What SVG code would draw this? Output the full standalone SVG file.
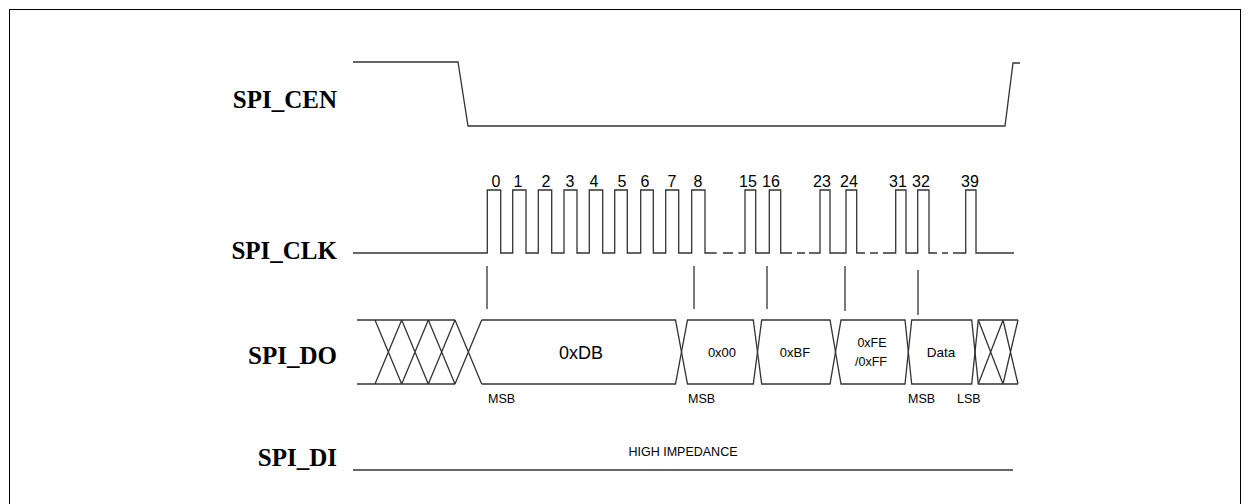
<svg xmlns="http://www.w3.org/2000/svg" width="1251" height="504" viewBox="0 0 1251 504">
<style>
.sig{fill:none;stroke:#333;stroke-width:1.3;stroke-linejoin:miter}
.lbl{font-family:"Liberation Serif","Times New Roman",serif;font-weight:bold;font-size:25px;fill:#000}
.num{font-family:"Liberation Sans",Arial,sans-serif;font-size:16px;fill:#000;text-anchor:middle}
.val{font-family:"Liberation Sans",Arial,sans-serif;fill:#000;text-anchor:middle}
.sm{font-family:"Liberation Sans",Arial,sans-serif;font-size:12.5px;fill:#000}
</style>
<rect x="9.5" y="9.5" width="1231" height="520" fill="#fff" stroke="#000" stroke-width="1"/>
<g id="labels">
<text class="lbl" x="337" y="108" text-anchor="end">SPI_CEN</text>
<text class="lbl" x="337" y="259" text-anchor="end">SPI_CLK</text>
<text class="lbl" x="337" y="364" text-anchor="end">SPI_DO</text>
<text class="lbl" x="337" y="466" text-anchor="end">SPI_DI</text>
</g>
<g id="spi_cen">
<polyline class="sig" points="353,62 458,62 468,126 1005,126 1013,63 1020,63"/>
</g>
<g id="spi_clk">
<path class="sig" d="M353,253 H487.3 V190 H500.7 V253 H512.7 V190 H526 V253 H538.3 V190 H551.7 V253 H564 V190 H577 V253 H589.3 V190 H602.7 V253 H614.7 V190 H627.3 V253 H640.7 V190 H653.3 V253 H665.7 V190 H678.7 V253 H691.7 V190 H705 V253 H716.7 M723,253 H733 M738.3,253 H745 V190 H755.7 V253 H769.3 V190 H780.7 V253 H792 M797,253 H805 M809,253 H820 V190 H830 V253 H846 V190 H856.7 V253 H865 M870,253 H878 M883,253 H895.7 V190 H906 V253 H917.7 V190 H929 V253 H937 M942,253 H948 M953,253 H965.7 V190 H976 V253 H1014"/>
<text class="num" x="496" y="187">0</text>
<text class="num" x="518" y="187">1</text>
<text class="num" x="546" y="187">2</text>
<text class="num" x="570" y="187">3</text>
<text class="num" x="594" y="187">4</text>
<text class="num" x="622" y="187">5</text>
<text class="num" x="645" y="187">6</text>
<text class="num" x="672" y="187">7</text>
<text class="num" x="698" y="187">8</text>
<text class="num" x="748" y="187">15</text>
<text class="num" x="771" y="187">16</text>
<text class="num" x="822" y="187">23</text>
<text class="num" x="849" y="187">24</text>
<text class="num" x="898" y="187">31</text>
<text class="num" x="921" y="187">32</text>
<text class="num" x="970" y="187">39</text>
</g>
<g id="connectors">
<line class="sig" x1="487" y1="266" x2="487" y2="309"/>
<line class="sig" x1="694" y1="266" x2="694" y2="309"/>
<line class="sig" x1="767" y1="266" x2="767" y2="309"/>
<line class="sig" x1="845" y1="266" x2="845" y2="311"/>
<line class="sig" x1="918" y1="270" x2="918" y2="315"/>
</g>
<g id="spi_do">
<path class="sig" d="M357,320 H455 M357,384 H455 M375,320 L401.7,384 M375,384 L401.7,320 M401.7,320 L428.3,384 M401.7,384 L428.3,320 M428.3,320 L455,384 M428.3,384 L455,320 M455,320 L481.7,384 M455,384 L481.7,320"/>
<path class="sig" d="M481.7,320 H675.5 L687.5,384 H753.3 L761.7,320 H830 L841,384 H905 L911.7,320 H971.7 L978.3,384 H1018"/>
<path class="sig" d="M481.7,384 H675.5 L687.5,320 H753.3 L761.7,384 H830 L841,320 H905 L911.7,384 H971.7 L978.3,320 H1018"/>
<path class="sig" d="M978.3,320 L1003,384 M978.3,384 L1003,320 M1003,320 L1018,384 M1003,384 L1018,320"/>
<text class="val" x="581" y="359" font-size="18">0xDB</text>
<text class="val" x="722" y="357" font-size="13">0x00</text>
<text class="val" x="795" y="357" font-size="13">0xBF</text>
<text class="val" x="872" y="347" font-size="12.5">0xFE</text>
<text class="val" x="871" y="366" font-size="12.5">/0xFF</text>
<text class="val" x="941" y="357" font-size="13.5">Data</text>
<text class="sm" x="488" y="403">MSB</text>
<text class="sm" x="688" y="403">MSB</text>
<text class="sm" x="908" y="403">MSB</text>
<text class="sm" x="957" y="403">LSB</text>
</g>
<g id="spi_di">
<line class="sig" x1="353" y1="470" x2="1013" y2="470"/>
<text class="sm" x="683" y="456" text-anchor="middle">HIGH IMPEDANCE</text>
</g>
</svg>
